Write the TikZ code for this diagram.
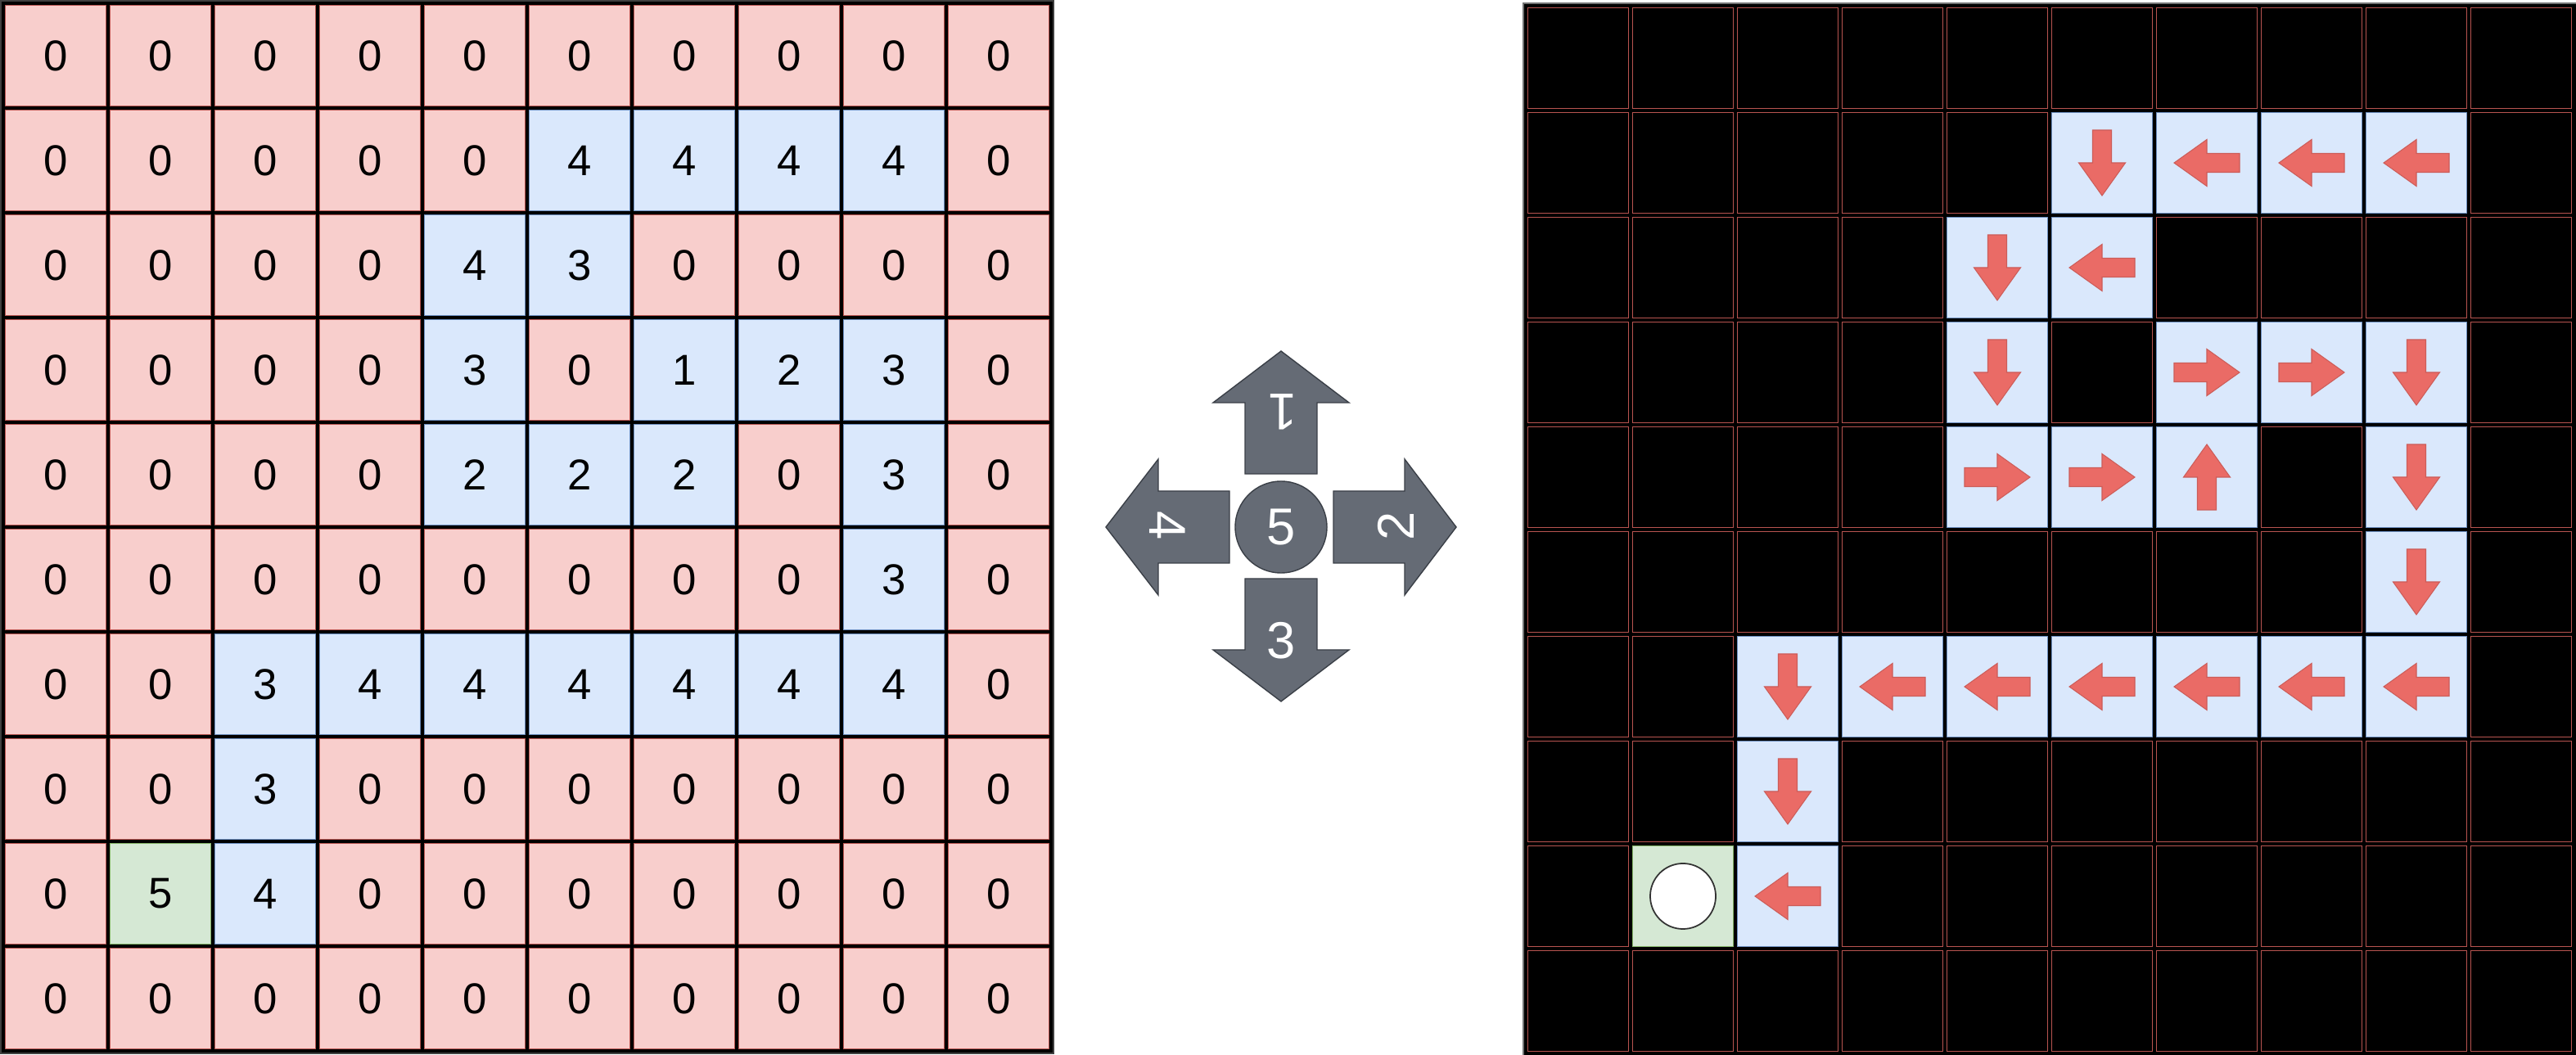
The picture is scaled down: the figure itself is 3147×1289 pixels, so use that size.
\documentclass[tikz,border=0pt]{standalone}
\usepackage{fontspec}
\setmainfont{Liberation Sans}
\definecolor{pinkfill}{HTML}{F8CECC}
\definecolor{pinkline}{HTML}{B85450}
\definecolor{bluefill}{HTML}{DAE8FC}
\definecolor{blueline}{HTML}{6C8EBF}
\definecolor{greenfill}{HTML}{D5E8D4}
\definecolor{greenline}{HTML}{82B366}
\definecolor{arrowred}{HTML}{EA6B66}
\definecolor{slate}{HTML}{656B75}
\definecolor{slateline}{HTML}{3A3F47}
\begin{document}
\begin{tikzpicture}[x=0.01cm,y=0.01cm,
  cellbase/.style={rectangle, minimum size=1.233cm, inner sep=0pt, line width=0.4pt, font=\fontsize{15}{18}\selectfont},
  pinkcell/.style={cellbase, draw=pinkline, fill=pinkfill},
  bluecell/.style={cellbase, draw=blueline, fill=bluefill},
  greencell/.style={cellbase, draw=greenline, fill=greenfill},
  darkcell/.style={cellbase, draw=pinkline, fill=black},
  pathmark/.style={fill=arrowred, draw=pinkline!60!arrowred, line width=0.3pt},
  bigarrow/.style={fill=slate, draw=slateline, line width=0.4pt},
  bigtext/.style={text=white, font=\fontsize{18}{20}\selectfont, inner sep=0pt}]
\useasboundingbox (0,0) rectangle (3147,-1289);
% left grid
\node[fill=black, draw=black!75, line width=0.5pt, minimum size=12.85cm, inner sep=0pt, anchor=north west] (lgrid) at (0,0) {};
\foreach \row [count=\r from 0] in {
  {0,0,0,0,0,0,0,0,0,0},
  {0,0,0,0,0,4,4,4,4,0},
  {0,0,0,0,4,3,0,0,0,0},
  {0,0,0,0,3,0,1,2,3,0},
  {0,0,0,0,2,2,2,0,3,0},
  {0,0,0,0,0,0,0,0,3,0},
  {0,0,3,4,4,4,4,4,4,0},
  {0,0,3,0,0,0,0,0,0,0},
  {0,5,4,0,0,0,0,0,0,0},
  {0,0,0,0,0,0,0,0,0,0}}{
  \foreach \v [count=\c from 0] in \row {
    \ifcase\v \tikzset{cs/.style=pinkcell}\or\tikzset{cs/.style=bluecell}\or\tikzset{cs/.style=bluecell}\or\tikzset{cs/.style=bluecell}\or\tikzset{cs/.style=bluecell}\or\tikzset{cs/.style=greencell}\fi
    \node[cs] (L-\r-\c) at ({68+128*\c},{-68-128*\r}) {\v};
  }
}
% right grid
\node[fill=black, draw=black!55, line width=0.6pt, minimum width=12.87cm, minimum height=12.86cm, inner sep=0pt, anchor=north west] (rgrid) at (1860,-3) {};
\foreach \row [count=\r from 0] in {
  {0,0,0,0,0,0,0,0,0,0},
  {0,0,0,0,0,3,4,4,4,0},
  {0,0,0,0,3,4,0,0,0,0},
  {0,0,0,0,3,0,2,2,3,0},
  {0,0,0,0,2,2,1,0,3,0},
  {0,0,0,0,0,0,0,0,3,0},
  {0,0,3,4,4,4,4,4,4,0},
  {0,0,3,0,0,0,0,0,0,0},
  {0,5,4,0,0,0,0,0,0,0},
  {0,0,0,0,0,0,0,0,0,0}}{
  \foreach \v [count=\c from 0] in \row {
    \ifcase\v \tikzset{cs/.style=darkcell}\or\tikzset{cs/.style=bluecell}\or\tikzset{cs/.style=bluecell}\or\tikzset{cs/.style=bluecell}\or\tikzset{cs/.style=bluecell}\or\tikzset{cs/.style=greencell}\fi
    \node[cs] (R-\r-\c) at ({1928+128*\c},{-71-128*\r}) {};
    \ifnum\v>0 \ifnum\v<5
      \ifcase\v\or\def\ang{90}\or\def\ang{0}\or\def\ang{270}\or\def\ang{180}\fi
      \path[pathmark, shift={(R-\r-\c.center)}, rotate=\ang] (-40,-11.5) -- (0,-11.5) -- (0,-28.5) -- (40,0) -- (0,28.5) -- (0,11.5) -- (-40,11.5) -- cycle;
    \fi\fi
    \ifnum\v=5
      \node[circle, draw=black!80, fill=white, line width=0.5pt, minimum size=0.8cm, inner sep=0pt] (goal) at (R-\r-\c.center) {};
    \fi
  }
}
% direction legend
\path[bigarrow] (1521,-579) -- (1521,-492) -- (1482,-492) -- (1565,-429) -- (1648,-492) -- (1609,-492) -- (1609,-579) -- cycle;
\path[bigarrow] (1521,-707) -- (1521,-794) -- (1482,-794) -- (1565,-857) -- (1648,-794) -- (1609,-794) -- (1609,-707) -- cycle;
\path[bigarrow] (1502,-600) -- (1415,-600) -- (1415,-561) -- (1351,-644) -- (1415,-727) -- (1415,-688) -- (1502,-688) -- cycle;
\path[bigarrow] (1629,-600) -- (1716,-600) -- (1716,-561) -- (1779,-644) -- (1716,-727) -- (1716,-688) -- (1629,-688) -- cycle;
\node[circle, bigarrow, minimum size=1.12cm, bigtext] (five) at (1565,-644) {5};
\node[bigtext, rotate=180] (one) at (1567,-503) {1};
\node[bigtext, rotate=-90] (four) at (1426,-642) {4};
\node[bigtext, rotate=90] (two) at (1705,-643) {2};
\node[bigtext] (three) at (1565,-783) {3};
\end{tikzpicture}
\end{document}
